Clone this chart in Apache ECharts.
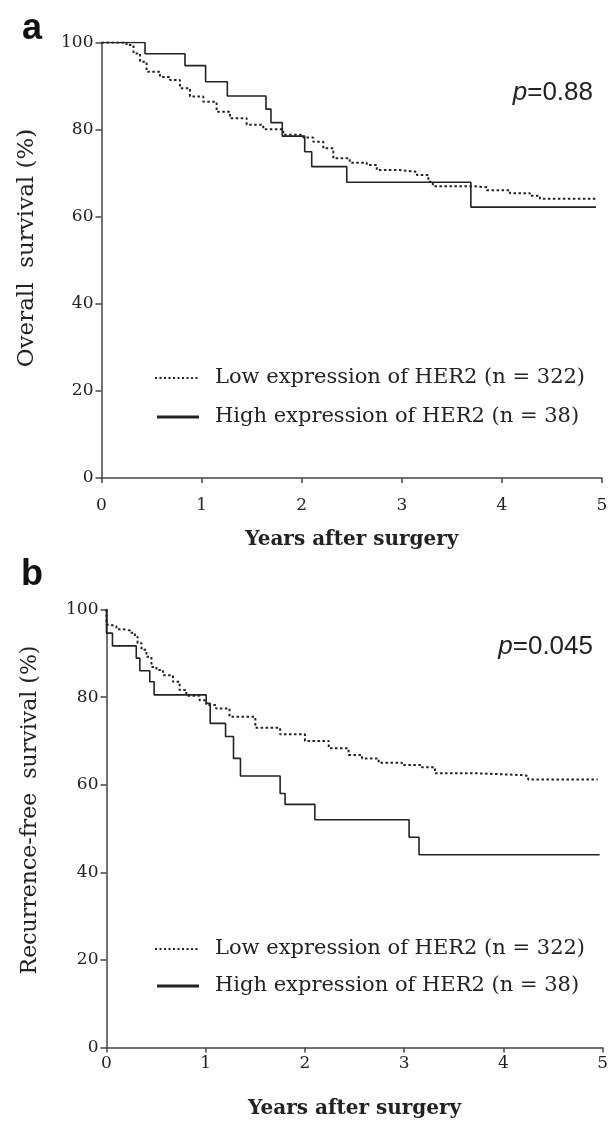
<!DOCTYPE html>
<html><head><meta charset="utf-8">
<script src="https://cdn.jsdelivr.net/npm/echarts@6/dist/echarts.min.js"></script>
<style>html,body{margin:0;padding:0;background:#fff}#c{width:611px;height:1122px}</style>
</head><body><div id="c"></div><script>
// ---- data ----
const xTickLabels = ['0','1','2','3','4','5'];
const yTickLabels = ['0','20','40','60','80','100'];
const legendLabels = ['Low expression of HER2 (n = 322)', 'High expression of HER2 (n = 38)'];
const pValues = ['0.88', '0.045'];

// Panel a: overall survival
const osLowT = [0, 0.2, 0.25, 0.32, 0.385, 0.45, 0.584, 0.684, 0.784, 0.884, 1.017, 1.15, 1.284, 1.45, 1.616, 1.816, 2.016, 2.116, 2.216, 2.316, 2.48, 2.65, 2.75, 2.98, 3.15, 3.265, 3.31, 3.71, 3.85, 4.08, 4.28, 4.38, 4.94];
const osLowS = [100, 100, 99.4, 97.5, 95.6, 93.3, 92.1, 91.4, 89.5, 87.6, 86.4, 84.1, 82.6, 81.1, 80.1, 78.8, 78.2, 77.2, 75.7, 73.4, 72.4, 71.9, 70.7, 70.3, 69.6, 68.0, 67.0, 66.75, 66.1, 65.4, 64.8, 64.1, 64.1];
const osHighT = [0, 0.435, 0.834, 1.04, 1.257, 1.643, 1.693, 1.806, 2.03, 2.10, 2.45, 3.69, 4.94];
const osHighS = [100, 97.4, 94.7, 91.0, 87.7, 84.7, 81.6, 78.5, 74.9, 71.5, 67.9, 62.2, 62.2];

// Panel b: recurrence-free survival
const rfsLowT = [0, 0, 0.035, 0.10, 0.17, 0.236, 0.286, 0.313, 0.353, 0.403, 0.453, 0.503, 0.57, 0.67, 0.737, 0.804, 0.938, 1.005, 1.105, 1.24, 1.5, 1.75, 2.0, 2.24, 2.44, 2.576, 2.743, 2.977, 3.178, 3.31, 3.746, 4.18, 4.25, 4.95];
const rfsLowS = [100, 96.5, 96.2, 95.5, 95.2, 94.7, 93.8, 92.3, 90.8, 89.2, 86.9, 86.2, 85.0, 83.5, 81.6, 80.3, 79.3, 78.2, 77.4, 75.5, 73, 71.5, 70, 68.3, 66.8, 66.0, 65.0, 64.5, 64.0, 62.6, 62.2, 62.0, 61.2, 61.2];
const rfsHighT = [0, 0, 0.06, 0.30, 0.336, 0.436, 0.48, 1.005, 1.045, 1.2, 1.28, 1.35, 1.75, 1.8, 2.1, 3.05, 3.15, 4.97];
const rfsHighS = [100, 94.6, 91.7, 88.9, 86.0, 83.5, 80.5, 78.6, 74, 71, 66, 62, 58, 55.5, 52, 48, 44, 44];

// ---- chart ----
const SERIF = 'DejaVu Serif';
const SANS = 'Liberation Sans';
const INK = '#222';
const AXIS = '#444';
const pairs = (t, s) => t.map((v, i) => [v, s[i]]);

const grids = [
  {left: 101.5, top: 42.5, width: 500.5, height: 435.5},
  {left: 106.5, top: 609.5, width: 498.5, height: 438}
];

function xAx(i, labelMargin, nameGap) {
  return {
    type: 'value', gridIndex: i, min: 0, max: 5, interval: 1,
    name: 'Years after surgery', nameLocation: 'middle', nameGap: nameGap,
    nameTextStyle: {fontFamily: SERIF, fontWeight: 'bold', fontSize: 20, color: INK},
    axisLine: {show: true, onZero: false, lineStyle: {color: AXIS, width: 1.5}},
    axisTick: {show: true, inside: false, length: 5, lineStyle: {color: AXIS, width: 1.5}},
    axisLabel: {fontFamily: SERIF, fontSize: 17, color: INK, margin: labelMargin,
      formatter: v => xTickLabels[Math.round(v)]},
    splitLine: {show: false}
  };
}
function yAx(i) {
  return {
    type: 'value', gridIndex: i, min: 0, max: 100, interval: 20,
    axisLine: {show: true, onZero: false, lineStyle: {color: AXIS, width: 1.5}},
    axisTick: {show: true, inside: false, length: 6, lineStyle: {color: AXIS, width: 1.5}},
    axisLabel: {fontFamily: SERIF, fontSize: 17, color: INK, margin: 8,
      formatter: v => yTickLabels[Math.round(v / 20)]},
    splitLine: {show: false}
  };
}
function ser(i, data, dashed) {
  return {
    type: 'line', xAxisIndex: i, yAxisIndex: i, step: 'end', data: data,
    showSymbol: false, silent: true,
    lineStyle: {color: INK, width: dashed ? 2 : 1.6, type: dashed ? [2.5, 2.5] : 'solid'}
  };
}

function legendBlock(yLow, yHigh) {
  return [
    {type: 'line', shape: {x1: 155, y1: yLow, x2: 198, y2: yLow}, style: {stroke: INK, lineWidth: 2, lineDash: [2, 2.5]}},
    {type: 'text', x: 215, y: yLow, style: {text: legendLabels[0], font: '21px "' + SERIF + '"', fill: INK, verticalAlign: 'middle'}},
    {type: 'line', shape: {x1: 157, y1: yHigh, x2: 199, y2: yHigh}, style: {stroke: INK, lineWidth: 3}},
    {type: 'text', x: 215, y: yHigh, style: {text: legendLabels[1], font: '21px "' + SERIF + '"', fill: INK, verticalAlign: 'middle'}}
  ];
}
function pText(xRight, yMid, val) {
  return {type: 'text', x: xRight, y: yMid, style: {
    text: '{i|p}{n|=' + val + '}', align: 'right', verticalAlign: 'middle',
    rich: {i: {fontFamily: SANS, fontStyle: 'italic', fontSize: 26, fill: INK, color: INK},
           n: {fontFamily: SANS, fontSize: 26, fill: INK, color: INK}}
  }};
}

const chart = echarts.init(document.getElementById('c'), null, {renderer: 'canvas'});
chart.setOption({
  animation: false,
  backgroundColor: '#fff',
  grid: grids,
  xAxis: [xAx(0, 19, 52), xAx(1, 8, 51)],
  yAxis: [yAx(0), yAx(1)],
  series: [
    ser(0, pairs(osLowT, osLowS), true),
    ser(0, pairs(osHighT, osHighS), false),
    ser(1, pairs(rfsLowT, rfsLowS), true),
    ser(1, pairs(rfsHighT, rfsHighS), false)
  ],
  graphic: [
    {type: 'text', x: 32, y: 29, style: {text: 'a', font: 'bold 36px "' + SANS + '"', fill: '#111', align: 'center', verticalAlign: 'middle'}},
    {type: 'text', x: 32, y: 575, style: {text: 'b', font: 'bold 36px "' + SANS + '"', fill: '#111', align: 'center', verticalAlign: 'middle'}},
    {type: 'text', x: 27, y: 248, rotation: Math.PI / 2, style: {text: 'Overall  survival (%)', font: '23px "' + SERIF + '"', fill: INK, align: 'center', verticalAlign: 'middle'}},
    {type: 'text', x: 30, y: 810, rotation: Math.PI / 2, style: {text: 'Recurrence-free  survival (%)', font: '22px "' + SERIF + '"', fill: INK, align: 'center', verticalAlign: 'middle'}},
    pText(593, 93, pValues[0]),
    pText(593, 647, pValues[1])
  ].concat(legendBlock(378, 417), legendBlock(949, 986))
});
</script></body></html>
